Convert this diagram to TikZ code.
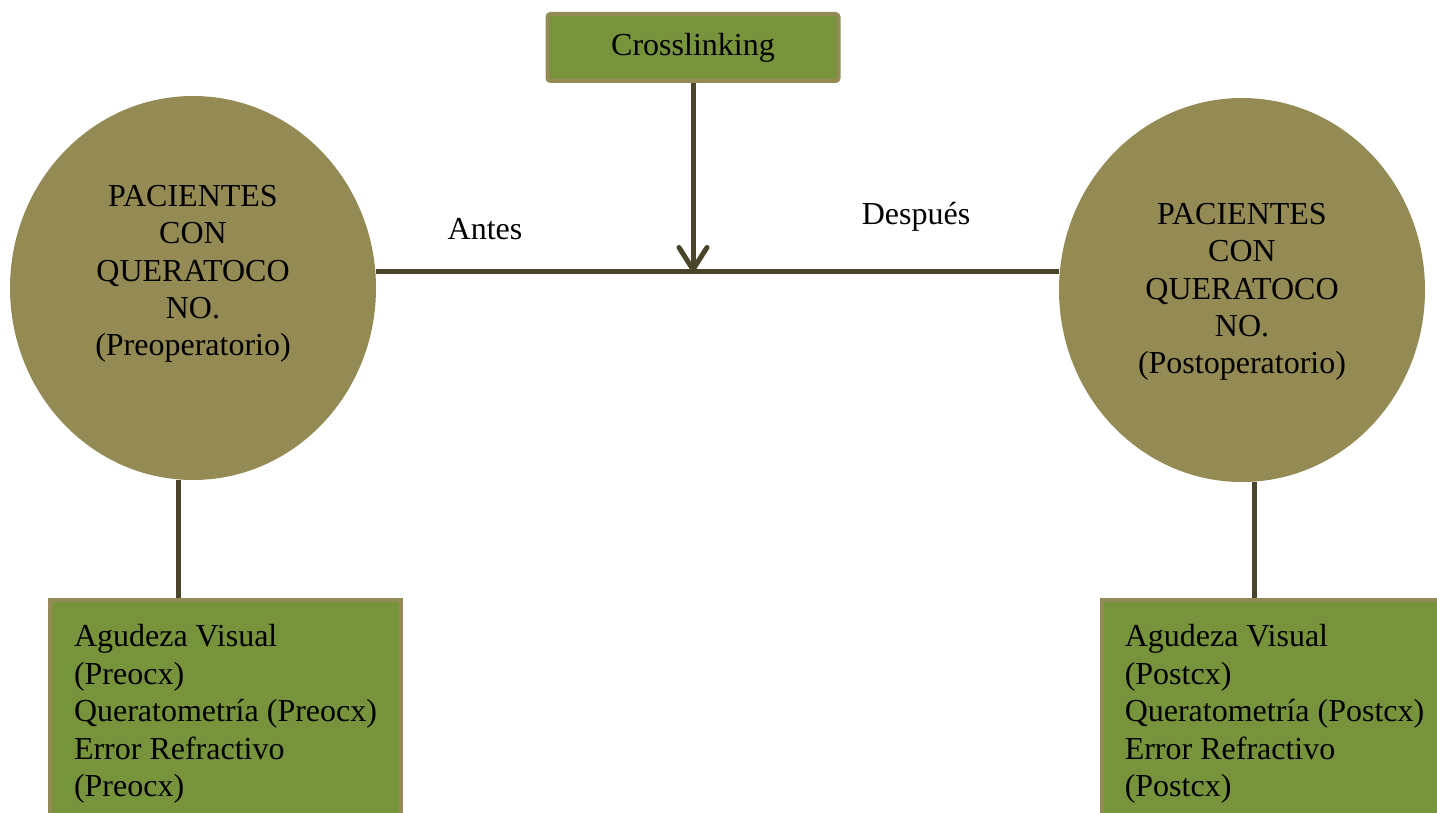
\documentclass[tikz,border=0pt]{standalone}
\usepackage{fontspec}
\setmainfont{LiberationSerif}[Extension=.ttf, UprightFont=*-Regular,
  BoldFont=*-Bold, ItalicFont=*-Italic, BoldItalicFont=*-BoldItalic]
\usetikzlibrary{shapes.geometric, arrows.meta, positioning}

\definecolor{olivefill}{HTML}{948A54}
\definecolor{greenfill}{HTML}{77933C}
\definecolor{linkcol}{HTML}{4A452A}

\begin{document}
\begin{tikzpicture}[x=0.5pt,y=-0.5pt,
  font=\fontsize{16}{18.7}\selectfont,
  patient/.style={ellipse, fill=olivefill, inner sep=0pt,
    minimum width=183pt, minimum height=192pt},
  measure/.style={draw=olivefill, fill=greenfill, line width=2pt,
    align=left, minimum width=175.5pt, minimum height=114pt},
  treat/.style={draw=olivefill, fill=greenfill, line width=2pt,
    rounded corners=1.5pt, minimum width=145.5pt, minimum height=33.5pt},
  link/.style={draw=linkcol, line width=2.5pt}]

  \clip (0,0) rectangle (1437,813);

  \node[patient] (pre) at (193,288) {};
  \node[patient] (post) at (1242,290) {};
  \node[align=center, yshift=7pt] (pre_txt) at (pre)
    {PACIENTES\\CON\\QUERATOCO\\NO.\\(Preoperatorio)};
  \node[align=center, yshift=-1pt] (post_txt) at (post)
    {PACIENTES\\CON\\QUERATOCO\\NO.\\(Postoperatorio)};

  %==================================================

  \node[treat] (cross) at (693,47.5) {Crosslinking};
  \coordinate (mid) at (693,272);

  \node[measure, anchor=north west] (pre_meas) at (48,598)
    {Agudeza Visual\\(Preocx)\\Queratometría (Preocx)\\Error Refractivo\\(Preocx)};
  \node[measure, anchor=north west, minimum width=172.5pt] (post_meas) at (1100,598)
    {Agudeza Visual\\(Postcx)\\Queratometría (Postcx)\\Error Refractivo\\(Postcx)};

  \node (antes) at (485,229) {Antes};
  \node (despues) at (916,217) {Después};

  %==================================================

  \draw[link] (pre.east |- mid) -- (post.west |- mid);
  \draw[link, -{Straight Barb[round, length=11pt, width=14pt]}] (cross.south) -- (mid);
  \draw[link] ([xshift=-7.5pt]pre.south) -- ([xshift=-7.5pt]pre.south |- pre_meas.north);
  \draw[link] ([xshift=6pt]post.south) -- ([xshift=6pt]post.south |- post_meas.north);

\end{tikzpicture}
\end{document}
